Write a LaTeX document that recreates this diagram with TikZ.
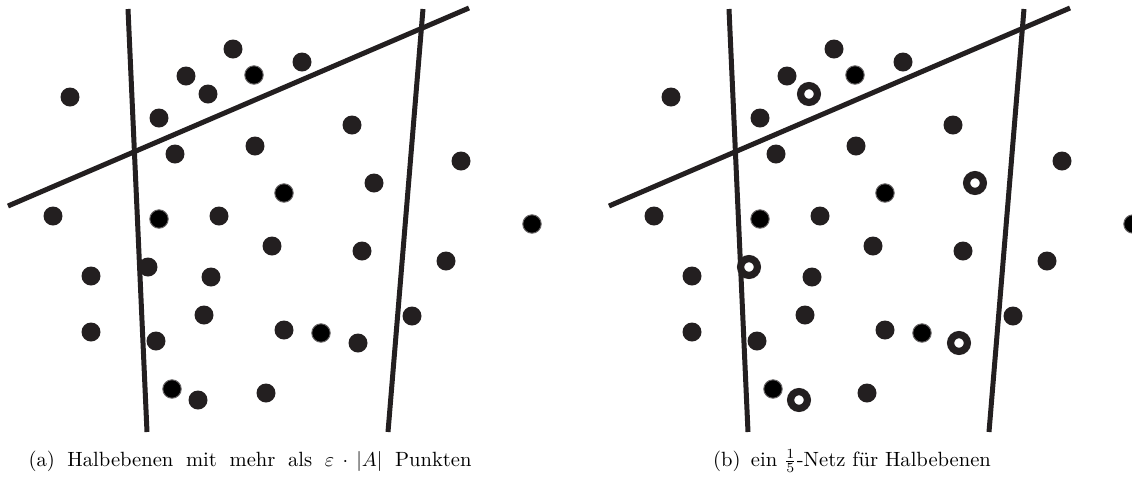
\documentclass[tikz,border=0pt]{standalone}
\usepackage{amsmath}
\definecolor{ink}{HTML}{231F20}
\newcommand{\panelbase}{%
  \draw[bline] (128,9) -- (147,432);
  \draw[bline] (8,206) -- (469,8);
  \draw[bline] (423,9) -- (388,432);
  \foreach \p in {(70,97),(233,49),(186,76),(159,118),(175,154),(255,146),
    (53,216),(219,216),(302,62),(352,125),(461,161),(272,246),(91,276),
    (211,277),(204,315),(91,332),(156,341),(266,393),(362,251),(446,261),
    (412,316),(284,330)}
    \fill[dot] \p circle (9.5);
  \foreach \p in {(254,75),(159,219),(284,193),(532,224),(172,389),(321,333)}
    \filldraw[bdot] \p circle (9.2);
}
\begin{document}
\begin{tikzpicture}[x=0.5pt,y=-0.5pt,
  dot/.style={fill=ink},
  bdot/.style={fill=black,draw=ink!70,line width=0.5pt},
  ringdot/.style={draw=ink,fill=white,line width=3.6pt},
  bline/.style={draw=ink,line width=2.5pt},
  captext/.style={font=\fontsize{10.3}{12.5}\selectfont, inner sep=0pt}]
\useasboundingbox (0,0) rectangle (1132,489);
\begin{scope}
\clip (0,0) rectangle (1132,489);
\begin{scope}
  \panelbase
  \foreach \p in {(208,94),(374,183),(148,267),(198,400),(358,343)}
    \fill[dot] \p circle (9.5);
\end{scope}
\begin{scope}[xshift=300.5pt]
  \panelbase
  \foreach \p in {(208,94),(374,183),(148,267),(198,400),(358,343)}
    \filldraw[ringdot] \p circle (8.4);
\end{scope}
\end{scope}
\node[captext] (capa) at (250,461) {\makebox[221.5pt][s]{(a) Halbebenen mit mehr als $\varepsilon\cdot|A|$ Punkten}};
\node[captext] (capb) at (852,461) {(b)\enspace ein $\frac{1}{5}$-Netz f\"ur Halbebenen};
\end{tikzpicture}
\end{document}
